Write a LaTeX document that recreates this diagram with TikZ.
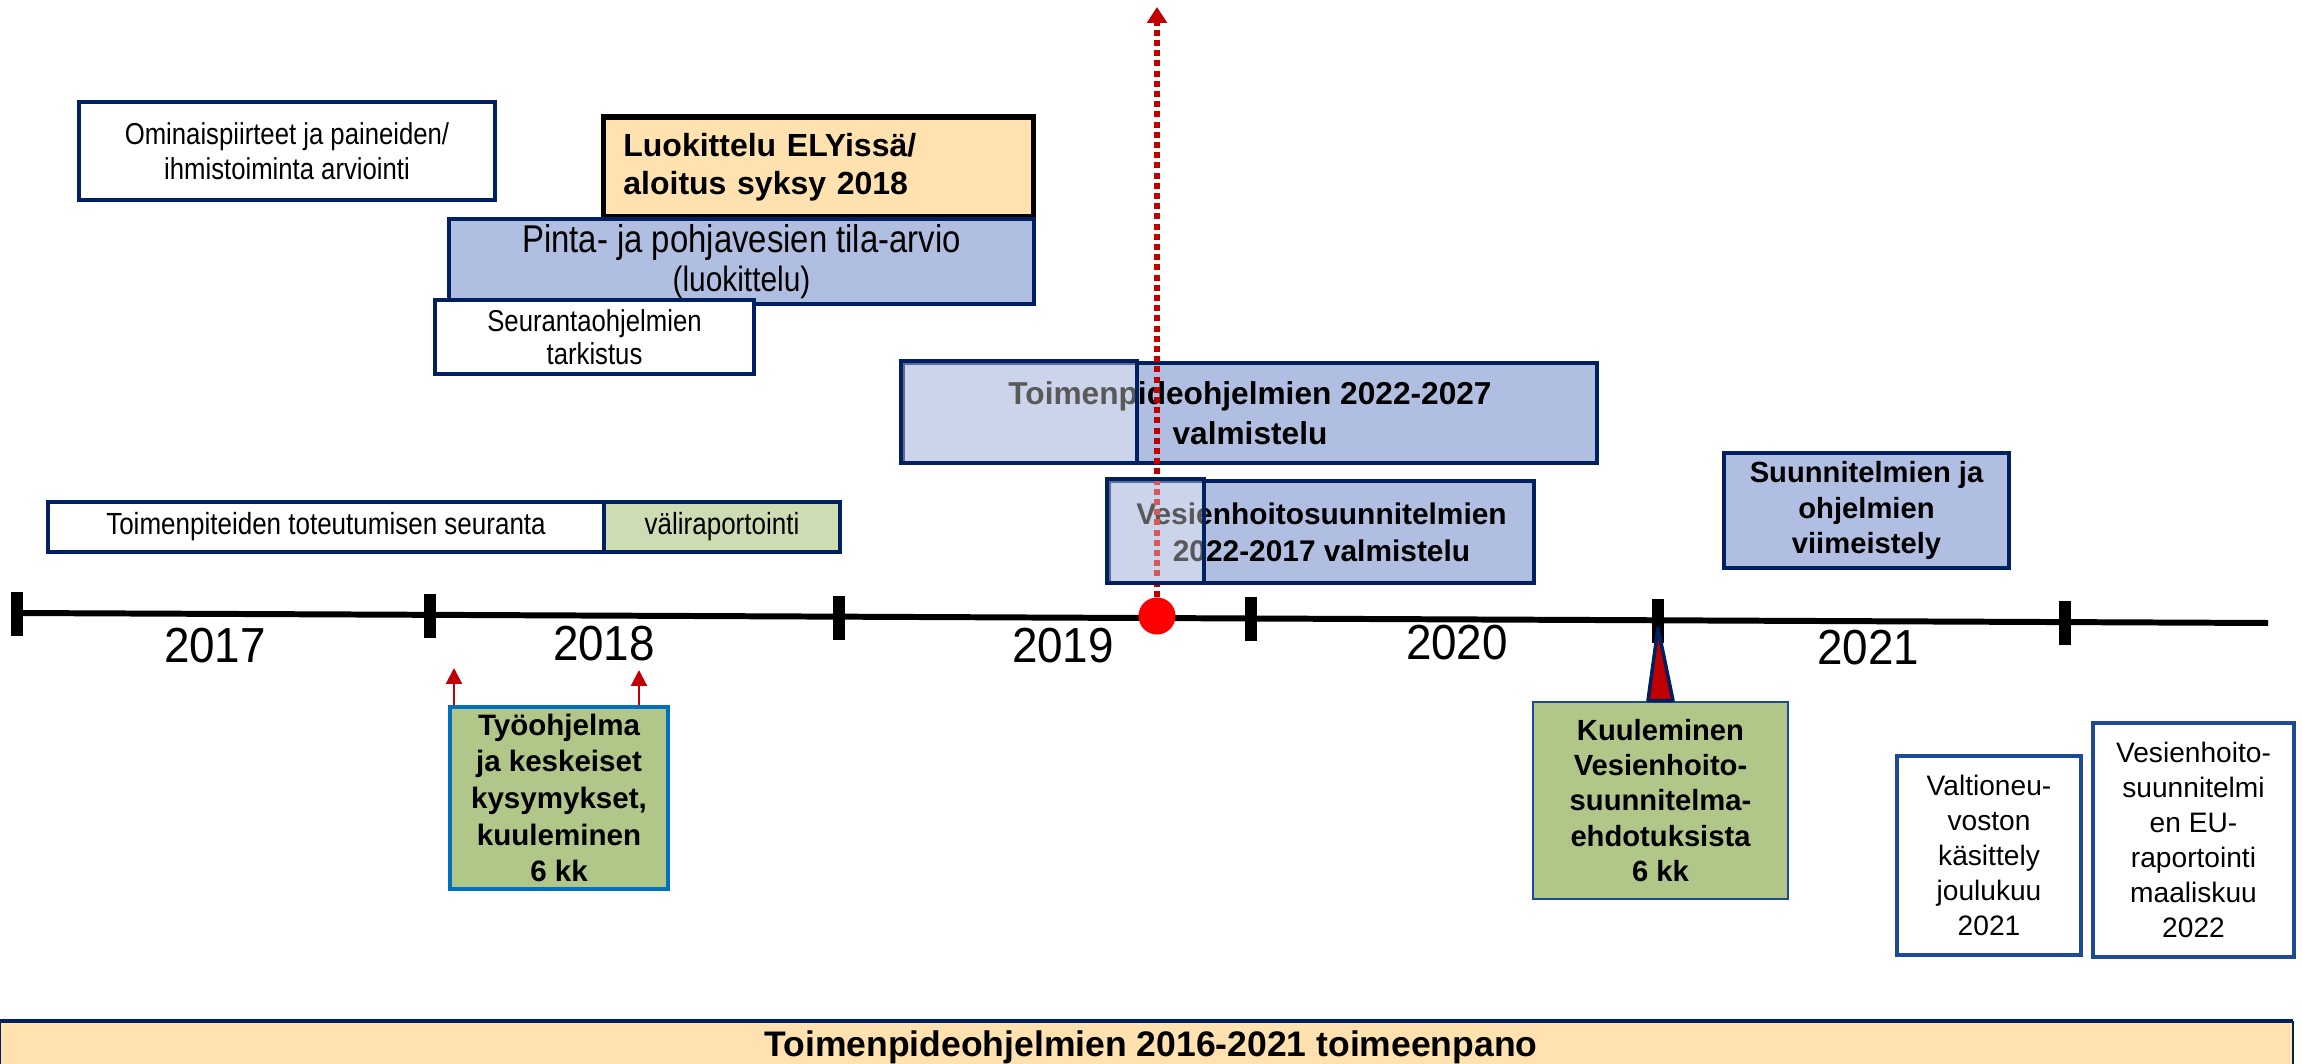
\documentclass[tikz,border=0pt]{standalone}
\usepackage{fontspec}
\setmainfont{Liberation Sans}
\newfontfamily\narrowfont[FakeStretch=0.85]{Liberation Sans}
\newfontfamily\yearfont[FakeStretch=0.93]{Liberation Sans}
\usetikzlibrary{arrows.meta}

\definecolor{navy}{HTML}{002060}
\definecolor{boxblue}{HTML}{B0BEE1}
\definecolor{sand}{HTML}{FFE2AF}
\definecolor{moss}{HTML}{B1C78A}
\definecolor{palemoss}{HTML}{CDDCB2}
\definecolor{deepred}{HTML}{C00000}
\definecolor{edgeblue}{HTML}{0070C0}
\definecolor{royal}{HTML}{1C4A96}

\tikzset{
  box/.style={draw=navy, line width=1.1pt, inner sep=0pt, align=center},
  bluebox/.style={box, fill=boxblue},
  whitebox/.style={box, fill=white},
  greenbox/.style={box, fill=moss},
  veil/.style={fill=white, fill opacity=0.35, draw=navy, line width=1.1pt},
  year/.style={font=\yearfont\fontsize{14}{15}\selectfont},
  tick/.style={line width=3.4pt},
  smallarrow/.style={deepred, line width=0.6pt, -{Triangle[length=4.5pt, width=4.5pt]}},
}

\begin{document}
\begin{tikzpicture}[x=0.01cm, y=-0.01cm]

\useasboundingbox (0,0) rectangle (2302,1064);
\clip (0,0) rectangle (2302,1064);

%% ── Upper boxes ──────────────────────────────────────────────────────────────
\node[whitebox, minimum width=4.16cm, minimum height=0.98cm,
      font=\narrowfont\fontsize{8.6}{10}\selectfont] (omin) at (287,151)
  {Ominaispiirteet ja paineiden/\\ihmistoiminta arviointi};

\node[box, draw=black, line width=1.5pt, fill=sand, text width=3.9cm,
      inner xsep=0.2cm, align=left, minimum height=1.0cm,
      font=\bfseries\fontsize{9.1}{10.8}\selectfont] (luok) at (818.5,167)
  {Luokittelu ELYissä/\\aloitus syksy 2018};

\node[bluebox, line width=1.2pt, minimum width=5.85cm, minimum height=0.85cm,
      font=\narrowfont\fontsize{11}{11}\selectfont] (pinta) at (741.5,261.5)
  {Pinta- ja pohjavesien tila-arvio\\{\fontsize{10}{11}\selectfont (luokittelu)}};

\node[whitebox, minimum width=3.19cm, minimum height=0.74cm,
      font=\narrowfont\fontsize{8.6}{9.5}\selectfont] (seur) at (594.5,337)
  {Seurantaohjelmien\\tarkistus};

%% ── Valmistelu boxes ─────────────────────────────────────────────────────────
\node[bluebox, minimum width=6.94cm, minimum height=1.00cm,
      font=\bfseries\fontsize{9}{11.5}\selectfont] (toim) at (1250,413)
  {Toimenpideohjelmien 2022-2027\\valmistelu};

\node[bluebox, minimum width=4.25cm, minimum height=1.02cm,
      font=\bfseries\fontsize{8.5}{10.5}\selectfont] (vesi) at (1321.5,532)
  {Vesienhoitosuunnitelmien\\2022-2017 valmistelu};

\node[bluebox, minimum width=2.85cm, minimum height=1.15cm,
      font=\bfseries\fontsize{8.3}{10.2}\selectfont] (viim) at (1866.5,510.5)
  {Suunnitelmien ja\\ohjelmien\\viimeistely};

%% ── Seuranta bar ─────────────────────────────────────────────────────────────
\node[whitebox, minimum width=5.56cm, minimum height=0.50cm,
      font=\narrowfont\fontsize{8.7}{10}\selectfont] (toteu) at (326,527)
  {Toimenpiteiden toteutumisen seuranta};
\node[box, fill=palemoss, minimum width=2.36cm, minimum height=0.50cm,
      font=\narrowfont\fontsize{8.7}{10}\selectfont] (vali) at (722,527)
  {väliraportointi};

%% ── Time axis ────────────────────────────────────────────────────────────────
\draw[line width=1.7pt] (15,613) -- (2268,623);
\foreach \tx in {17,430,839,1251,1658,2065}{
  \draw[tick] (\tx,{613+(\tx-15)/225.3-21}) -- (\tx,{613+(\tx-15)/225.3+23});
}
\node[year] (y2017) at (215,646) {2017};
\node[year] (y2018) at (604,644) {2018};
\node[year] (y2019) at (1063,646) {2019};
\node[year] (y2020) at (1457,643) {2020};
\node[year] (y2021) at (1868,648) {2021};

%% ── Current moment ───────────────────────────────────────────────────────────
\node[circle, fill=red, inner sep=0pt, minimum size=0.37cm] (dot) at (1157,616) {};
\coordinate (top) at (1157,7);
\draw[deepred, line width=1.6pt, dash pattern=on 1.7pt off 1.2pt,
      -{Triangle[length=4.5pt, width=5.5pt]}] (dot.north) -- (top);

%% lighter front parts of the valmistelu boxes
\draw[veil] (toim.north west) rectangle (1137,463);
\draw[veil] (vesi.north west) rectangle (1204,583);

%% ── Lower boxes ──────────────────────────────────────────────────────────────
\node[greenbox, draw=edgeblue, line width=1pt, minimum width=2.18cm, minimum height=1.82cm,
      font=\bfseries\fontsize{8.4}{10.4}\selectfont] (tyo) at (559,798)
  {Työohjelma\\ja keskeiset\\kysymykset,\\kuuleminen\\6 kk};
\coordinate (up1) at (454,668);
\coordinate (up2) at (639,670);
\draw[smallarrow] (tyo.north -| up1) -- (up1);
\draw[smallarrow] (tyo.north -| up2) -- (up2);

\node[greenbox, draw=royal, line width=0.8pt, minimum width=2.55cm, minimum height=1.97cm,
      font=\bfseries\fontsize{8.3}{10}\selectfont] (kuul) at (1660.5,800.5)
  {Kuuleminen\\Vesienhoito-\\suunnitelma-\\ehdotuksista\\6 kk};
\coordinate (apex) at (1658,628);
\draw[fill=deepred, draw=navy, line width=1pt, line join=round]
  ([xshift=-0.125cm]kuul.north) -- (apex) -- ([xshift=0.125cm]kuul.north) -- cycle;

\node[whitebox, draw=royal, line width=1.3pt, minimum width=1.84cm, minimum height=1.99cm,
      font=\fontsize{8}{10}\selectfont] (valt) at (1989,855.5)
  {Valtioneu-\\voston\\käsittely\\joulukuu\\2021};

\node[whitebox, draw=royal, line width=1.3pt, minimum width=2.01cm, minimum height=2.34cm,
      font=\fontsize{8}{10}\selectfont] (eurap) at (2193.5,840)
  {Vesienhoito-\\suunnitelmi\\en EU-\\raportointi\\maaliskuu\\2022};

%% ── Toimeenpano bar ──────────────────────────────────────────────────────────
\fill[sand] (0,1021) rectangle (2293,1070);
\draw[navy, line width=0.5pt] (0,1021) -- (0,1070) (2293,1021) -- (2293,1070);
\draw[navy, line width=1.3pt] (0,1021) -- (2293,1021);
\node[font=\bfseries\fontsize{10.1}{11}\selectfont] (bar) at (1151,1047)
  {Toimenpideohjelmien 2016-2021 toimeenpano};

\end{tikzpicture}
\end{document}
